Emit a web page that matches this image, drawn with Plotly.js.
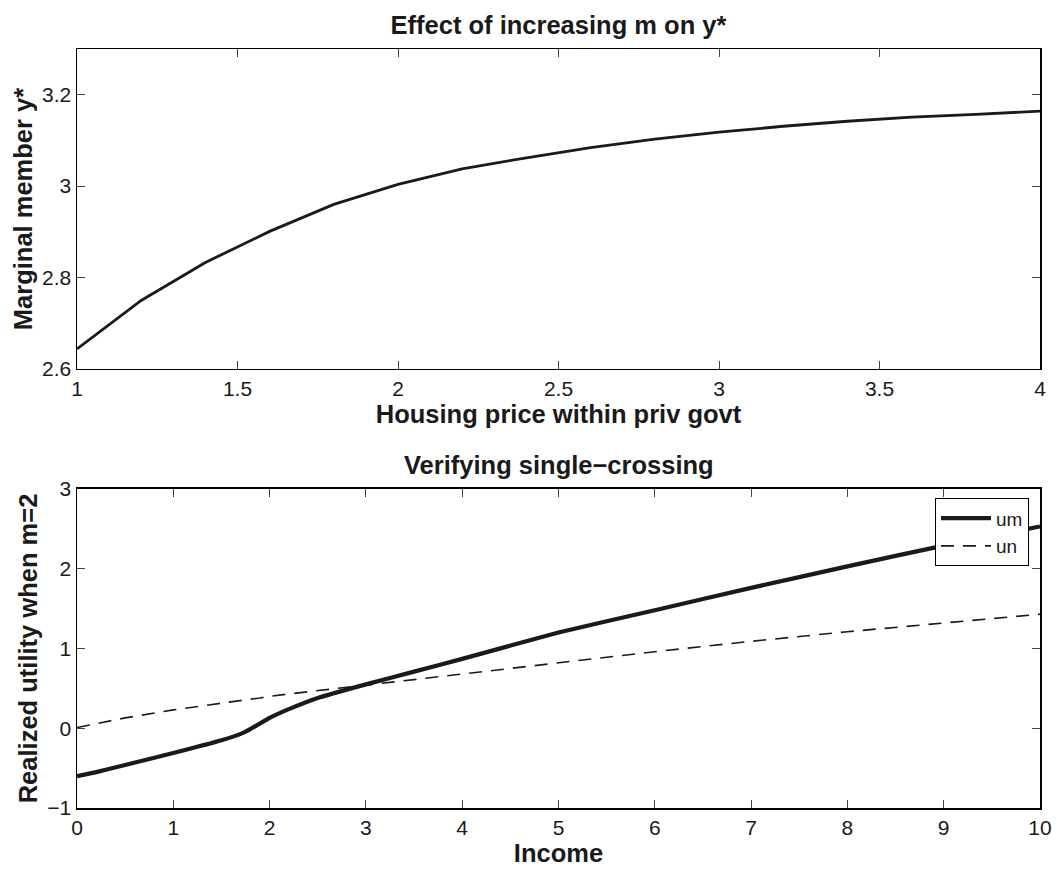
<!DOCTYPE html>
<html>
<head>
<meta charset="utf-8">
<script src="https://cdn.plot.ly/plotly-3.0.1.min.js"></script>
<style>html,body{margin:0;padding:0;background:#fff;}#chart{width:1057px;height:872px;}</style>
</head>
<body>
<div id="chart"></div>
<script>
// Top panel: housing price vs marginal member y*
var priceX = [1.0, 1.2, 1.4, 1.6, 1.8, 2.0, 2.2, 2.4, 2.6, 2.8, 3.0, 3.2, 3.4, 3.6, 3.8, 4.0];
var ystar  = [2.644, 2.750, 2.833, 2.901, 2.960, 3.004, 3.038, 3.062, 3.084, 3.103, 3.118, 3.131, 3.142, 3.151, 3.157, 3.164];

// Bottom panel: income vs realized utility
var income = [0, 0.2, 0.5, 1, 1.5, 1.7, 1.8, 1.9, 2, 2.2, 2.5, 3, 3.5, 4, 5, 6, 7, 8, 9, 10];
var um     = [-0.60, -0.55, -0.46, -0.31, -0.15, -0.07, -0.01, 0.06, 0.13, 0.24, 0.38, 0.55, 0.71, 0.87, 1.20, 1.48, 1.76, 2.03, 2.29, 2.53];
var un     = [0.01, 0.06, 0.13, 0.23, 0.32, 0.35, 0.365, 0.38, 0.40, 0.43, 0.47, 0.54, 0.61, 0.68, 0.82, 0.96, 1.09, 1.21, 1.32, 1.43];

var seriesNames = ['um', 'un'];
var topYTicks = [2.6, 2.8, 3, 3.2];

var FONT = 'Liberation Sans, Arial, Helvetica, sans-serif';
var INK = '#1a1a1a';

var traces = [
  {x: priceX, y: ystar, xaxis: 'x', yaxis: 'y', mode: 'lines', showlegend: false,
   line: {color: INK, width: 2.8}, hoverinfo: 'skip'},
  {x: income, y: um, xaxis: 'x2', yaxis: 'y2', mode: 'lines', name: seriesNames[0],
   line: {color: INK, width: 4.2, shape: 'spline', smoothing: 0.4}},
  {x: income, y: un, xaxis: 'x2', yaxis: 'y2', mode: 'lines', name: seriesNames[1],
   line: {color: INK, width: 1.6, dash: '13px,9px'}}
];

function axisBase() {
  return {
    showgrid: false, zeroline: false, showline: true, linecolor: '#000', linewidth: 1.5,
    mirror: 'ticks', ticks: 'inside', ticklen: 8, tickwidth: 1, tickcolor: '#444',
    tickfont: {family: FONT, size: 21, color: INK}, automargin: false
  };
}

var TF = {family: FONT, size: 25.5, color: INK};

var xa = Object.assign(axisBase(), {domain: [0, 1], range: [1, 4], dtick: 0.5, tick0: 1, anchor: 'y',
  title: {text: '<b>Housing price within priv govt</b>', font: TF, standoff: 3}});
var ya = Object.assign(axisBase(), {domain: [0.5784, 1], range: [2.6, 3.3], tickvals: topYTicks, anchor: 'x',
  title: {text: '<b>Marginal member y*</b>', font: TF, standoff: 2}});
var xa2 = Object.assign(axisBase(), {domain: [0, 1], range: [0, 10], dtick: 1, tick0: 0, anchor: 'y2',
  title: {text: '<b>Income</b>', font: TF, standoff: 3}});
var ya2 = Object.assign(axisBase(), {domain: [0, 0.4203], range: [-1, 3], dtick: 1, tick0: 0, anchor: 'x2',
  title: {text: '<b>Realized utility when m=2</b>', font: TF, standoff: 2}});

var layout = {
  width: 1057, height: 872,
  margin: {l: 77, r: 17, t: 49, b: 64},
  paper_bgcolor: '#fff', plot_bgcolor: '#fff',
  font: {family: FONT, color: INK},
  title: {text: '<b>Effect of increasing m on y*</b>', font: TF,
          x: 0.5, xref: 'paper', xanchor: 'center', y: 1 - 25/872, yref: 'container', yanchor: 'middle'},
  xaxis: xa, yaxis: ya, xaxis2: xa2, yaxis2: ya2,
  showlegend: true,
  legend: {x: 0.9886, y: 0.408, xanchor: 'right', yanchor: 'top', xref: 'paper', yref: 'paper',
           bgcolor: '#fff', bordercolor: '#000', borderwidth: 1,
           font: {family: FONT, size: 19, color: INK}, tracegroupgap: 0, itemwidth: 50},
  annotations: [
    {text: '<b>Verifying single\u2212crossing</b>', xref: 'paper', yref: 'paper', x: 0.5, y: (808-465)/759,
     xanchor: 'center', yanchor: 'middle', showarrow: false, font: TF}
  ]
};

Plotly.newPlot('chart', traces, layout, {displayModeBar: false, staticPlot: true});
</script>
</body>
</html>
